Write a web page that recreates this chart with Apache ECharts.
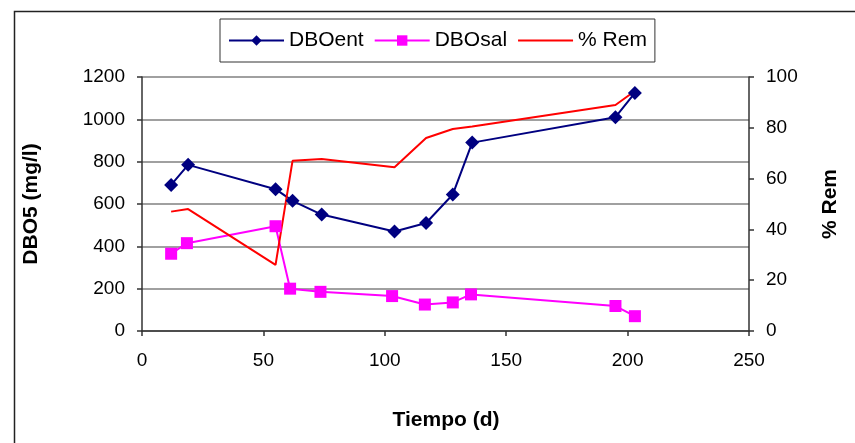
<!DOCTYPE html>
<html>
<head>
<meta charset="utf-8">
<script src="https://cdn.jsdelivr.net/npm/echarts@6/dist/echarts.min.js"></script>
<style>html,body{margin:0;padding:0;background:#fff}#c{width:855px;height:443px}</style>
</head>
<body>
<div id="c"></div>
<script>
var dias = [12, 19, 55, 62, 74, 104, 117, 128, 136, 195, 203];
var dboEnt = [690, 785, 670, 615, 550, 470, 510, 645, 890, 1010, 1125];
var diasSal = [12, 18.5, 55, 61, 73.5, 103, 116.5, 128, 135.5, 195, 203];
var dboSal = [365, 415, 495, 200, 185, 165, 125, 135, 173, 118, 70];
var diasRem = [12, 19, 55, 62, 74, 104, 117, 128, 136, 195, 203];
var rem = [47, 48, 26, 67, 67.7, 64.5, 76, 79.5, 80.5, 89, 94.5];
var seriesNames = ['DBOent', 'DBOsal', '% Rem'];
var xName = 'Tiempo (d)';
var yLeftName = 'DBO5 (mg/l)';
var yRightName = '% Rem';

function pairs(xs, ys) { return xs.map(function (x, i) { return [x, ys[i]]; }); }

var font = 'Liberation Sans, Arial, sans-serif';
var chart = echarts.init(document.getElementById('c'), null, {renderer: 'canvas'});
chart.setOption({
  animation: false,
  backgroundColor: '#fff',
  graphic: [{
    type: 'rect', left: 12, top: 9, shape: {width: 900, height: 500},
    style: {fill: 'none', stroke: '#222', lineWidth: 1.5}, z: -1
  }, {
    type: 'text', x: 446, y: 410,
    style: {text: xName, font: 'bold 21px ' + font, fill: '#000', textAlign: 'center'}
  }],
  legend: {
    left: 220, top: 19,
    padding: [11, 8, 11, 8],
    itemWidth: 55, itemHeight: 13, itemGap: 10,
    borderColor: '#333', borderWidth: 1, backgroundColor: '#fff',
    textStyle: {fontFamily: font, fontSize: 21, color: '#000'},
    data: [seriesNames[0], seriesNames[1], {name: seriesNames[2], itemStyle: {opacity: 0}}]
  },
  grid: {left: 142, top: 77, width: 607, height: 254},
  xAxis: {
    type: 'value', min: 0, max: 250, interval: 50,
    axisLine: {show: true, lineStyle: {color: '#333', width: 1.5}},
    axisTick: {show: true, length: 5, lineStyle: {color: '#333', width: 1.5}},
    axisLabel: {fontFamily: font, fontSize: 19, color: '#000', margin: 20},
    splitLine: {show: false}
  },
  yAxis: [{
    type: 'value', min: 0, max: 1200, interval: 200,
    name: yLeftName, nameLocation: 'middle', nameGap: 100, nameRotate: 90,
    nameTextStyle: {fontFamily: font, fontSize: 21, fontWeight: 'bold', color: '#000'},
    axisLine: {show: true, lineStyle: {color: '#333', width: 1.5}},
    axisTick: {show: true, length: 5, lineStyle: {color: '#333', width: 1.5}},
    axisLabel: {fontFamily: font, fontSize: 19, color: '#000', margin: 17,
      formatter: function (v) { return String(v); }},
    splitLine: {show: true, lineStyle: {color: '#808080', width: 1.5}}
  }, {
    type: 'value', min: 0, max: 100, interval: 20, position: 'right',
    name: yRightName, nameLocation: 'middle', nameGap: 71, nameRotate: 90,
    nameTextStyle: {fontFamily: font, fontSize: 21, fontWeight: 'bold', color: '#000'},
    axisLine: {show: true, lineStyle: {color: '#333', width: 1.5}},
    axisTick: {show: true, length: 5, lineStyle: {color: '#333', width: 1.5}},
    axisLabel: {fontFamily: font, fontSize: 19, color: '#000', margin: 17},
    splitLine: {show: false}
  }],
  series: [{
    name: seriesNames[0], type: 'line', data: pairs(dias, dboEnt),
    symbol: 'diamond', symbolSize: 14,
    itemStyle: {color: '#000080'}, lineStyle: {color: '#000080', width: 2}
  }, {
    name: seriesNames[1], type: 'line', data: pairs(diasSal, dboSal),
    symbol: 'rect', symbolSize: 12,
    itemStyle: {color: '#FF00FF'}, lineStyle: {color: '#FF00FF', width: 2}
  }, {
    name: seriesNames[2], type: 'line', yAxisIndex: 1, data: pairs(diasRem, rem),
    symbol: 'none', showSymbol: false,
    itemStyle: {color: '#FF0000'}, lineStyle: {color: '#FF0000', width: 2}
  }]
});
</script>
</body>
</html>
